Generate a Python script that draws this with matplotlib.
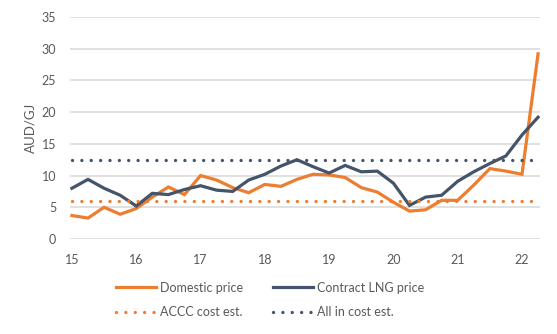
import numpy as np
import matplotlib
matplotlib.use("Agg")
import matplotlib.pyplot as plt

plt.rcParams["font.family"] = ["Lato", "DejaVu Sans"]

# quarterly, 2015 Q1 .. 2022 Q2
quarters = np.arange(15, 22.26, 0.25)
domestic = [3.7, 3.3, 5.0, 3.9, 4.8, 6.6, 8.2, 7.0, 10.0, 9.3, 8.1, 7.3,
            8.6, 8.3, 9.4, 10.2, 10.1, 9.7, 8.1, 7.4, 5.8, 4.4, 4.6, 6.1,
            6.1, 8.5, 11.1, 10.7, 10.2, 29.2]
contract_lng = [8.0, 9.4, 8.0, 6.9, 5.2, 7.2, 7.0, 7.8, 8.4, 7.7, 7.5, 9.3,
                10.2, 11.5, 12.5, 11.4, 10.4, 11.6, 10.6, 10.7, 8.8, 5.3, 6.6, 6.9,
                9.1, 10.6, 11.9, 13.1, 16.4, 19.2]
accc_cost = 6.0
all_in_cost = 12.4
x_ticks = [15, 16, 17, 18, 19, 20, 21, 22]

orange = "#ED7D31"
navy = "#44546A"
grey_txt = "#595959"

fig = plt.figure(figsize=(5.57, 3.34), dpi=100)
ax = fig.add_axes([70/557, 1 - 239/334, 470/557, 222/334])

dots = (0, (0.01, 2.8))
l1, = ax.plot(quarters, domestic, color=orange, lw=2.3, solid_joinstyle="miter", label="Domestic price")
l2, = ax.plot(quarters, contract_lng, color=navy, lw=2.3, solid_joinstyle="miter", label="Contract LNG price")
l3, = ax.plot(quarters, [accc_cost] * len(quarters), color=orange, lw=2.4,
              linestyle=dots, dash_capstyle="round", label="ACCC cost est.")
l4, = ax.plot(quarters, [all_in_cost] * len(quarters), color=navy, lw=2.4,
              linestyle=dots, dash_capstyle="round", label="All in cost est.")

ax.set_xlim(14.97, 22.28)
ax.set_ylim(0, 35)
ax.set_yticks(range(0, 36, 5))
ax.set_xticks(x_ticks)
ax.grid(axis="y", color="#D9D9D9", lw=1.1)
ax.set_axisbelow(True)
for s in ax.spines.values():
    s.set_visible(False)
ax.tick_params(length=0, labelsize=9, labelcolor=grey_txt)
ax.tick_params(axis="x", pad=11)
ax.tick_params(axis="y", pad=10)
ax.set_ylabel("AUD/GJ", fontsize=9.5, color=grey_txt, labelpad=4)

fig.legend([l1, l3, l2, l4], [h.get_label() for h in [l1, l3, l2, l4]],
           ncol=2, frameon=False, loc="center", bbox_to_anchor=(270/557, 1 - 300/334),
           fontsize=9, labelcolor=grey_txt, handlelength=3.2, handletextpad=0.3,
           columnspacing=2.4, labelspacing=1.0)

fig.savefig("out.png", dpi=100)
